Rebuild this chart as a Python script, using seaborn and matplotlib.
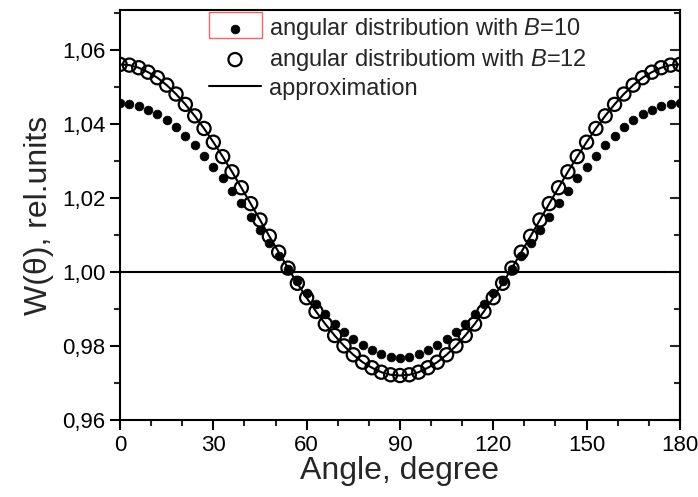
import numpy as np
import pandas as pd
import seaborn as sns
import matplotlib.pyplot as plt
from matplotlib.ticker import MultipleLocator, FuncFormatter
from matplotlib.patches import Rectangle

# angle grid (one point every 3 degrees)
angle = [0, 3, 6, 9, 12, 15, 18, 21, 24, 27, 30, 33, 36, 39, 42, 45, 48, 51, 54, 57,
         60, 63, 66, 69, 72, 75, 78, 81, 84, 87, 90, 93, 96, 99, 102, 105, 108, 111,
         114, 117, 120, 123, 126, 129, 132, 135, 138, 141, 144, 147, 150, 153, 156,
         159, 162, 165, 168, 171, 174, 177, 180]

w_b10 = [1.0455, 1.0453, 1.0448, 1.0438, 1.0425, 1.0409, 1.0390, 1.0367, 1.0342, 1.0314,
         1.0284, 1.0253, 1.0219, 1.0185, 1.0149, 1.0114, 1.0078, 1.0043, 1.0008, 0.9975,
         0.9943, 0.9913, 0.9885, 0.9860, 0.9838, 0.9818, 0.9802, 0.9789, 0.9778, 0.9770,
         0.9767, 0.9770, 0.9778, 0.9789, 0.9802, 0.9818, 0.9838, 0.9860, 0.9885, 0.9913,
         0.9943, 0.9975, 1.0008, 1.0043, 1.0078, 1.0114, 1.0149, 1.0185, 1.0219, 1.0253,
         1.0284, 1.0314, 1.0342, 1.0367, 1.0390, 1.0409, 1.0425, 1.0438, 1.0448, 1.0453,
         1.0455]

w_b12 = [1.0560, 1.0558, 1.0551, 1.0539, 1.0524, 1.0504, 1.0480, 1.0452, 1.0421, 1.0387,
         1.0350, 1.0311, 1.0270, 1.0227, 1.0184, 1.0140, 1.0096, 1.0053, 1.0010, 0.9969,
         0.9930, 0.9893, 0.9859, 0.9828, 0.9800, 0.9776, 0.9756, 0.9741, 0.9729, 0.9722,
         0.9720, 0.9722, 0.9729, 0.9741, 0.9756, 0.9776, 0.9800, 0.9828, 0.9859, 0.9893,
         0.9930, 0.9969, 1.0010, 1.0053, 1.0096, 1.0140, 1.0184, 1.0227, 1.0270, 1.0311,
         1.0350, 1.0387, 1.0421, 1.0452, 1.0480, 1.0504, 1.0524, 1.0539, 1.0551, 1.0558,
         1.0560]

# approximation curve drawn through the B=12 points
w_approx = w_b12
ref_level = 1.00

df = pd.DataFrame({'angle': angle, 'b10': w_b10, 'b12': w_b12, 'approx': w_approx})

sns.set_style('ticks')
plt.rcParams['font.family'] = ['Liberation Sans', 'DejaVu Sans']
plt.rcParams['mathtext.fontset'] = 'custom'
plt.rcParams['mathtext.it'] = 'Liberation Sans:italic'
plt.rcParams['mathtext.rm'] = 'Liberation Sans'

fig = plt.figure(figsize=(6.98, 4.97), dpi=100)
ax = fig.add_axes([0.172, 0.155, 0.802, 0.825])

ax.axhline(ref_level, color='black', lw=1.5, zorder=1)
sns.lineplot(data=df, x='angle', y='approx', ax=ax, color='black', lw=1.5,
             label='approximation', zorder=2)
sns.scatterplot(data=df, x='angle', y='b10', ax=ax, color='black', s=40,
                edgecolor='black', linewidth=0.5, label='angular distribution with $B$=10', zorder=3)
sns.scatterplot(data=df, x='angle', y='b12', ax=ax, facecolor='none', s=90,
                edgecolor='black', linewidth=1.6, label='angular distributiom with $B$=12', zorder=4)

ax.set_xlim(0, 180)
ax.set_ylim(0.96, 1.0707)
ax.xaxis.set_major_locator(MultipleLocator(30))
ax.xaxis.set_minor_locator(MultipleLocator(10))
ax.yaxis.set_major_locator(MultipleLocator(0.02))
ax.yaxis.set_minor_locator(MultipleLocator(0.01))
ax.yaxis.set_major_formatter(FuncFormatter(lambda v, p: f'{v:.2f}'.replace('.', ',')))

for s in ax.spines.values():
    s.set_linewidth(1.5)
    s.set_color('black')
ax.tick_params(which='major', direction='out', length=7, width=1.5, labelsize=16, colors='black')
ax.tick_params(which='minor', direction='out', length=4, width=1.5)

sec = ax.secondary_yaxis('right')
sec.yaxis.set_major_locator(MultipleLocator(0.02))
sec.yaxis.set_minor_locator(MultipleLocator(0.01))
sec.tick_params(which='major', direction='in', length=7, width=1.5, labelright=False)
sec.tick_params(which='minor', direction='in', length=4, width=1.5)
sec.spines['right'].set_linewidth(1.5)

ax.set_xlabel('Angle, degree', fontsize=23, labelpad=0)
ax.set_ylabel('W(θ), rel.units', fontsize=23, labelpad=6)

h, l = ax.get_legend_handles_labels()
order = [1, 2, 0]
ax.legend([h[i] for i in order], [l[i] for i in order], loc='upper left',
          bbox_to_anchor=(0.159, 0.985), frameon=False, fontsize=17,
          handlelength=2.2, handletextpad=0.35, labelspacing=0.2,
          borderaxespad=0, borderpad=0)

fig.patches.append(Rectangle((209 / 698, 1 - 38 / 497), 53 / 698, 26 / 497,
                             transform=fig.transFigure, fill=False,
                             edgecolor='#ff6060', lw=1))

fig.savefig('out.png', dpi=100)
